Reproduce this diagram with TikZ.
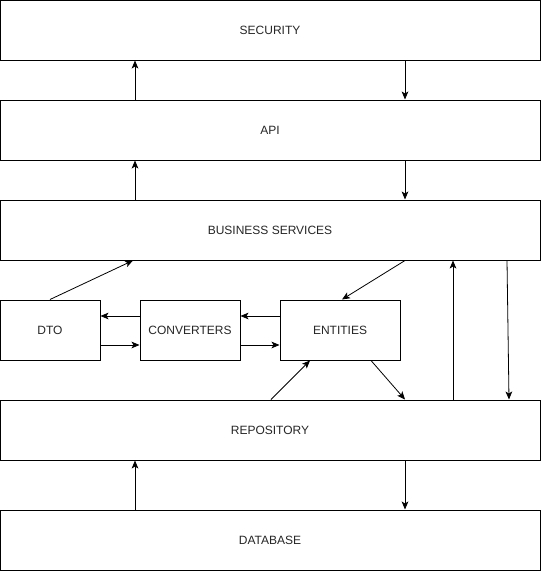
\documentclass[tikz,border=0pt]{standalone}
\usepackage{fontspec}
\setmainfont{Liberation Sans}
\usetikzlibrary{arrows.meta}
\begin{document}
\begin{tikzpicture}[x=0.75pt,y=-0.75pt,
  box/.style={draw=black,line width=0.75pt,fill=white,inner sep=0pt,
    font=\fontsize{9}{11}\selectfont,text=black!85},
  conn/.style={line width=0.6pt,-{Stealth[length=6pt,width=5pt,inset=1.5pt]}}]
\useasboundingbox (0,0) rectangle (542,571);
\node[box,minimum width=405pt,minimum height=45pt] (sec) at (270,30) {SECURITY};
\node[box,minimum width=405pt,minimum height=45pt] (api) at (270,130) {API};
\node[box,minimum width=405pt,minimum height=45pt] (bs) at (270,230) {BUSINESS SERVICES};
\node[box,minimum width=75pt,minimum height=45pt] (dto) at (50,330) {DTO};
\node[box,minimum width=75pt,minimum height=45pt] (conv) at (190,330) {CONVERTERS};
\node[box,minimum width=90pt,minimum height=45pt] (ent) at (340,330) {ENTITIES};
\node[box,minimum width=405pt,minimum height=45pt] (repo) at (270,430) {REPOSITORY};
\node[box,minimum width=405pt,minimum height=45pt] (db) at (270,540) {DATABASE};
% vertical stacks
\draw[conn] (api.north -| 135,0) -- (sec.south -| 135,0);
\draw[conn] (sec.south -| 405,0) -- (api.north -| 405,0);
\draw[conn] (bs.north -| 135,0) -- (api.south -| 135,0);
\draw[conn] (api.south -| 405,0) -- (bs.north -| 405,0);
\draw[conn] (db.north -| 135,0) -- (repo.south -| 135,0);
\draw[conn] (repo.south -| 405,0) -- (db.north -| 405,0);
% business services links
\draw[conn] (dto.north) -- (bs.south -| 133,0);
\draw[conn] (bs.south -| 405,0) -- (ent.north -| 342,0);
\draw[conn] (repo.north -| 453,0) -- (bs.south -| 453,0);
\draw[conn] (bs.south -| 507,0) -- (repo.north -| 509,0);
% converters
\draw[conn] (conv.west |- 0,316) -- (dto.east |- 0,316);
\draw[conn] (dto.east |- 0,345) -- (conv.west |- 0,345);
\draw[conn] (ent.west |- 0,316) -- (conv.east |- 0,316);
\draw[conn] (conv.east |- 0,345) -- (ent.west |- 0,345);
% entities <-> repository
\draw[conn] (repo.north -| 271,0) -- (ent.south -| 310,0);
\draw[conn] (ent.south -| 371,0) -- (repo.north -| 405,0);
\end{tikzpicture}
\end{document}
